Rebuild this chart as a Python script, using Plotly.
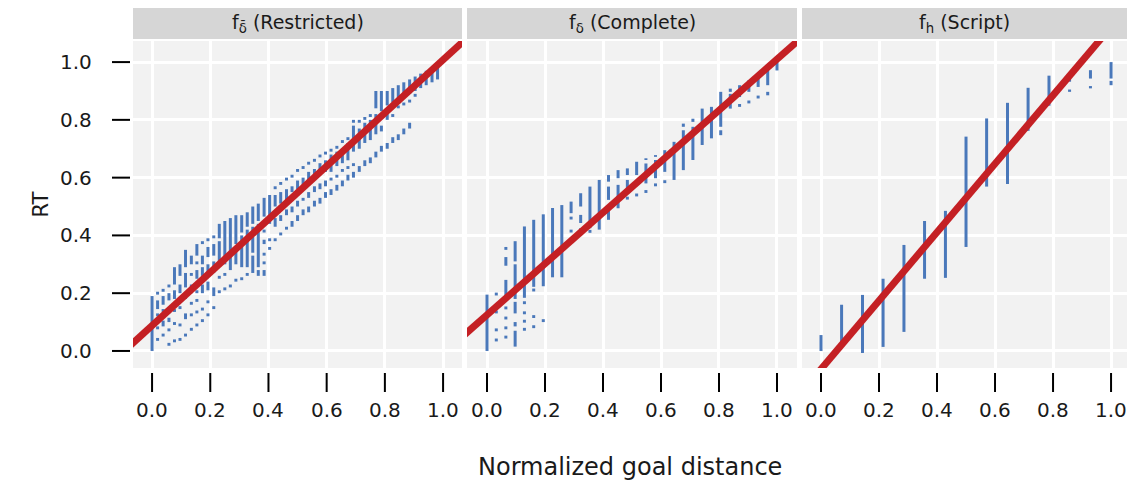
import plotly.graph_objects as go

# ---------------- data ----------------
panel_titles = ["f<sub>δ\u0304</sub> (Restricted)", "f<sub>δ</sub> (Complete)", "f<sub>h</sub> (Script)"]
tick_vals = [0.0, 0.2, 0.4, 0.6, 0.8, 1.0]
tick_text = ["0.0", "0.2", "0.4", "0.6", "0.8", "1.0"]
x_title = "Normalized goal distance"
y_title = "RT"

fit_intercept = [0.088, 0.125, -0.063]
fit_slope = [0.92, 0.885, 1.185]

# Restricted: goal-distance positions and RT runs [low, high] at each
restricted_x = [0.0, 0.019, 0.038, 0.058, 0.077, 0.096, 0.115, 0.135, 0.154, 0.173,
                0.192, 0.212, 0.231, 0.25, 0.269, 0.288, 0.308, 0.327, 0.346, 0.365,
                0.385, 0.404, 0.423, 0.442, 0.462, 0.481, 0.5, 0.519, 0.538, 0.558,
                0.577, 0.596, 0.615, 0.635, 0.654, 0.673, 0.692, 0.712, 0.731, 0.75,
                0.769, 0.788, 0.808, 0.827, 0.846, 0.865, 0.885, 0.904, 0.923, 0.942,
                0.962, 0.981]
restricted_rt = [
    [[0.0, 0.19]],
    [[0.195, 0.205], [0.145, 0.175], [0.12, 0.13], [0.075, 0.085], [0.035, 0.045]],
    [[0.205, 0.215], [0.16, 0.19], [0.135, 0.145], [0.085, 0.105], [0.05, 0.06]],
    [[0.22, 0.23], [0.175, 0.2], [0.13, 0.15], [0.1, 0.115], [0.068, 0.078], [0.018, 0.028]],
    [[0.23, 0.29], [0.18, 0.21], [0.135, 0.145], [0.09, 0.1], [0.03, 0.04]],
    [[0.26, 0.3], [0.2, 0.23], [0.175, 0.185], [0.145, 0.155], [0.085, 0.095], [0.035, 0.045]],
    [[0.29, 0.35], [0.22, 0.27], [0.18, 0.19], [0.11, 0.13], [0.05, 0.06]],
    [[0.3, 0.33], [0.26, 0.27], [0.2, 0.23], [0.16, 0.17], [0.12, 0.13], [0.07, 0.08]],
    [[0.33, 0.37], [0.3, 0.31], [0.25, 0.28], [0.2, 0.21], [0.17, 0.18], [0.13, 0.14], [0.085, 0.095]],
    [[0.37, 0.38], [0.3, 0.33], [0.26, 0.29], [0.2, 0.23], [0.14, 0.15], [0.1, 0.11]],
    [[0.38, 0.39], [0.325, 0.36], [0.27, 0.3], [0.21, 0.24], [0.165, 0.175], [0.12, 0.13]],
    [[0.39, 0.4], [0.33, 0.37], [0.27, 0.31], [0.19, 0.22], [0.145, 0.155]],
    [[0.39, 0.44], [0.3, 0.38], [0.25, 0.26], [0.2, 0.21]],
    [[0.3, 0.45], [0.26, 0.27], [0.21, 0.22]],
    [[0.28, 0.46], [0.22, 0.23]],
    [[0.37, 0.47], [0.3, 0.36], [0.24, 0.25]],
    [[0.41, 0.47], [0.29, 0.4], [0.245, 0.255]],
    [[0.43, 0.48], [0.29, 0.42], [0.26, 0.27]],
    [[0.44, 0.5], [0.34, 0.43], [0.27, 0.33]],
    [[0.45, 0.51], [0.29, 0.44], [0.26, 0.28]],
    [[0.465, 0.53], [0.41, 0.42], [0.37, 0.385], [0.33, 0.34], [0.3, 0.31], [0.26, 0.28]],
    [[0.47, 0.54], [0.44, 0.45], [0.38, 0.39], [0.35, 0.36]],
    [[0.56, 0.57], [0.5, 0.54], [0.43, 0.46], [0.38, 0.39]],
    [[0.575, 0.585], [0.51, 0.55], [0.45, 0.47], [0.4, 0.41]],
    [[0.59, 0.6], [0.52, 0.56], [0.47, 0.49], [0.42, 0.43]],
    [[0.6, 0.61], [0.55, 0.57], [0.48, 0.5], [0.43, 0.45]],
    [[0.62, 0.63], [0.56, 0.59], [0.5, 0.52], [0.45, 0.47]],
    [[0.63, 0.64], [0.57, 0.6], [0.52, 0.53], [0.47, 0.49]],
    [[0.645, 0.655], [0.59, 0.62], [0.53, 0.55], [0.48, 0.5]],
    [[0.655, 0.665], [0.6, 0.63], [0.55, 0.57], [0.5, 0.52]],
    [[0.67, 0.68], [0.62, 0.65], [0.56, 0.58], [0.51, 0.53]],
    [[0.68, 0.69], [0.62, 0.66], [0.57, 0.59], [0.53, 0.55]],
    [[0.69, 0.7], [0.62, 0.68], [0.59, 0.6], [0.54, 0.56]],
    [[0.7, 0.71], [0.64, 0.69], [0.6, 0.61], [0.555, 0.575]],
    [[0.72, 0.73], [0.65, 0.7], [0.62, 0.63], [0.57, 0.59]],
    [[0.73, 0.74], [0.66, 0.72], [0.63, 0.64], [0.59, 0.61]],
    [[0.79, 0.8], [0.69, 0.78], [0.64, 0.65], [0.6, 0.62]],
    [[0.79, 0.8], [0.7, 0.77], [0.62, 0.64]],
    [[0.8, 0.81], [0.72, 0.79], [0.64, 0.66]],
    [[0.81, 0.82], [0.73, 0.8], [0.65, 0.67]],
    [[0.84, 0.9], [0.75, 0.82], [0.67, 0.69]],
    [[0.83, 0.9], [0.76, 0.78], [0.69, 0.71]],
    [[0.85, 0.9], [0.8, 0.82], [0.7, 0.72]],
    [[0.86, 0.91], [0.81, 0.82], [0.72, 0.74]],
    [[0.87, 0.92], [0.84, 0.85], [0.73, 0.75]],
    [[0.88, 0.93], [0.85, 0.86], [0.75, 0.77]],
    [[0.89, 0.94], [0.86, 0.87], [0.77, 0.79]],
    [[0.9, 0.95], [0.88, 0.89]],
    [[0.91, 0.96]],
    [[0.92, 0.97]],
    [[0.93, 0.975]],
    [[0.94, 0.98]],
]

complete_x = [0.0, 0.032, 0.065, 0.097, 0.129, 0.161, 0.194, 0.226, 0.258, 0.29,
              0.323, 0.355, 0.387, 0.419, 0.452, 0.484, 0.516, 0.548, 0.581, 0.613,
              0.645, 0.677, 0.71, 0.742, 0.774, 0.806, 0.839, 0.871, 0.903, 0.935,
              0.968, 1.0]
complete_rt = [
    [[0.0, 0.195]],
    [[0.192, 0.202], [0.13, 0.14], [0.068, 0.078], [0.033, 0.043]],
    [[0.35, 0.36], [0.295, 0.325], [0.176, 0.246], [0.144, 0.154], [0.109, 0.119], [0.075, 0.085], [0.043, 0.053]],
    [[0.31, 0.38], [0.18, 0.3], [0.13, 0.17], [0.085, 0.1], [0.015, 0.07]],
    [[0.184, 0.431], [0.162, 0.172], [0.127, 0.137], [0.098, 0.108], [0.07, 0.08]],
    [[0.222, 0.454], [0.206, 0.216], [0.114, 0.124], [0.079, 0.089]],
    [[0.224, 0.473], [0.1, 0.11]],
    [[0.255, 0.495]],
    [[0.255, 0.505]],
    [[0.477, 0.517], [0.455, 0.465], [0.41, 0.42]],
    [[0.5, 0.546], [0.443, 0.471], [0.415, 0.425]],
    [[0.425, 0.569], [0.409, 0.419]],
    [[0.42, 0.592]],
    [[0.586, 0.609], [0.523, 0.569], [0.454, 0.5]],
    [[0.598, 0.626], [0.494, 0.575]],
    [[0.609, 0.632], [0.546, 0.592], [0.524, 0.534]],
    [[0.609, 0.655], [0.535, 0.545]],
    [[0.661, 0.667], [0.58, 0.649], [0.547, 0.557]],
    [[0.672, 0.678], [0.598, 0.661], [0.57, 0.58]],
    [[0.62, 0.695], [0.581, 0.591]],
    [[0.592, 0.724]],
    [[0.776, 0.787], [0.626, 0.764]],
    [[0.793, 0.804], [0.661, 0.776]],
    [[0.713, 0.839]],
    [[0.736, 0.845]],
    [[0.776, 0.897], [0.747, 0.764]],
    [[0.897, 0.908], [0.839, 0.89]],
    [[0.879, 0.92], [0.845, 0.855]],
    [[0.897, 0.937], [0.857, 0.867]],
    [[0.914, 0.96], [0.874, 0.884]],
    [[0.92, 0.977], [0.885, 0.897]],
    [[0.971, 1.0]],
]

script_x = [0.0, 0.071, 0.143, 0.214, 0.286, 0.357, 0.429, 0.5, 0.571, 0.643,
            0.714, 0.786, 0.857, 0.929, 1.0]
script_rt = [
    [[0.0, 0.055]],
    [[0.014, 0.16]],
    [[-0.007, 0.194]],
    [[0.014, 0.25]],
    [[0.066, 0.367]],
    [[0.25, 0.45]],
    [[0.253, 0.485]],
    [[0.36, 0.742]],
    [[0.569, 0.805]],
    [[0.578, 0.859]],
    [[0.762, 0.911]],
    [[0.849, 0.953]],
    [[0.932, 0.949], [0.897, 0.905]],
    [[0.943, 0.972], [0.909, 0.917]],
    [[0.943, 1.0], [0.92, 0.935]],
]

panels_x = [restricted_x, complete_x, script_x]
panels_rt = [restricted_rt, complete_rt, script_rt]

# ---------------- layout geometry (pixels) ----------------
W, H = 1127, 484
PL, PT, PB = 133, 41, 368          # plot area left / top / bottom
PR = 1127
panel_px = [(133, 462), (467, 797), (802, 1127)]
x_ranges = [[-0.0655, 1.065], [-0.069, 1.069], [-0.0655, 1.055]]
y_range = [-0.059, 1.073]
PH = PB - PT
PW = PR - PL

BLUE = "#4a78ba"
RED = "#c42024"
TXT = "#1a1a1a"
FONT = "DejaVu Sans, Liberation Sans, Arial, sans-serif"

fig = go.Figure()

for i in range(3):
    xs, ys = [], []
    for xv, runs in zip(panels_x[i], panels_rt[i]):
        for lo, hi in runs:
            xs += [xv, xv, None]
            ys += [lo, hi, None]
    ax = "x" if i == 0 else f"x{i+1}"
    ay = "y" if i == 0 else f"y{i+1}"
    fig.add_trace(go.Scatter(x=xs, y=ys, mode="lines", xaxis=ax, yaxis=ay,
                             line=dict(color=BLUE, width=3), hoverinfo="skip",
                             showlegend=False))
    xe = [x_ranges[i][0] - 0.05, x_ranges[i][1] + 0.05]
    ye = [fit_intercept[i] + fit_slope[i] * v for v in xe]
    fig.add_trace(go.Scatter(x=xe, y=ye, mode="lines", xaxis=ax, yaxis=ay,
                             line=dict(color=RED, width=7), hoverinfo="skip",
                             showlegend=False))

layout = dict(
    width=W, height=H,
    margin=dict(l=PL, r=W - PR, t=PT, b=H - PB, pad=0),
    paper_bgcolor="white", plot_bgcolor="#f2f2f2",
    font=dict(family=FONT, color=TXT, size=14),
    showlegend=False,
)
shapes = []
annotations = []
for i in range(3):
    x0p, x1p = panel_px[i]
    dom = [(x0p - PL) / PW, (x1p - PL) / PW]
    sfx = "" if i == 0 else str(i + 1)
    layout["xaxis" + sfx] = dict(domain=dom, range=x_ranges[i], tickvals=tick_vals,
                                 showticklabels=False, ticks="", showgrid=True,
                                 gridcolor="white", gridwidth=2.5, zeroline=False,
                                 showline=False, anchor="y" + sfx, fixedrange=True)
    layout["yaxis" + sfx] = dict(domain=[0, 1], range=y_range, tickvals=tick_vals,
                                 showticklabels=False, ticks="", showgrid=True,
                                 gridcolor="white", gridwidth=2.5, zeroline=False,
                                 showline=False, anchor="x" + sfx, fixedrange=True)
    xr = "x" + sfx
    yr = "y" + sfx
    # x tick marks and labels
    for v, t in zip(tick_vals, tick_text):
        shapes.append(dict(type="line", xref=xr, yref=yr + " domain", x0=v, x1=v,
                           y0=-5 / PH, y1=-24 / PH, line=dict(color="black", width=2)))
        annotations.append(dict(text=t, xref=xr, yref=yr + " domain", x=v,
                                y=-(410 - PB) / PH, showarrow=False, xanchor="center",
                                yanchor="middle", font=dict(size=20, color=TXT)))
    # strip
    shapes.append(dict(type="rect", xref=xr + " domain", yref=yr + " domain",
                       x0=0, x1=1, y0=(PB - 39) / PH, y1=(PB - 8) / PH,
                       fillcolor="#d6d6d6", line=dict(width=0), layer="below"))
    annotations.append(dict(text=panel_titles[i], xref=xr + " domain",
                            yref=yr + " domain", x=0.5, y=(PB - 23.5) / PH,
                            showarrow=False, xanchor="center", yanchor="middle",
                            font=dict(size=19, color=TXT)))

# y tick marks and labels (first panel only)
pw1 = panel_px[0][1] - panel_px[0][0]
for v, t in zip(tick_vals, tick_text):
    shapes.append(dict(type="line", xref="x domain", yref="y", x0=-3 / pw1, x1=-21 / pw1,
                       y0=v, y1=v, line=dict(color="black", width=2)))
    annotations.append(dict(text=t, xref="x domain", yref="y", x=-(PL - 94) / pw1, y=v,
                            showarrow=False, xanchor="right", yanchor="middle",
                            font=dict(size=20, color=TXT)))

annotations.append(dict(text=x_title, xref="paper", yref="paper",
                        x=(630 - PL) / PW, y=-(467 - PB) / PH, showarrow=False,
                        xanchor="center", yanchor="middle", font=dict(size=24, color=TXT)))
annotations.append(dict(text=y_title, xref="paper", yref="paper",
                        x=-(PL - 40) / PW, y=0.5, showarrow=False, textangle=-90,
                        xanchor="center", yanchor="middle", font=dict(size=21, color=TXT)))

layout["shapes"] = shapes
layout["annotations"] = annotations
fig.update_layout(**layout)
fig.write_html("out.html", config={"displayModeBar": False},
               post_script="document.body.style.margin='0px';document.body.style.overflow='hidden';")
